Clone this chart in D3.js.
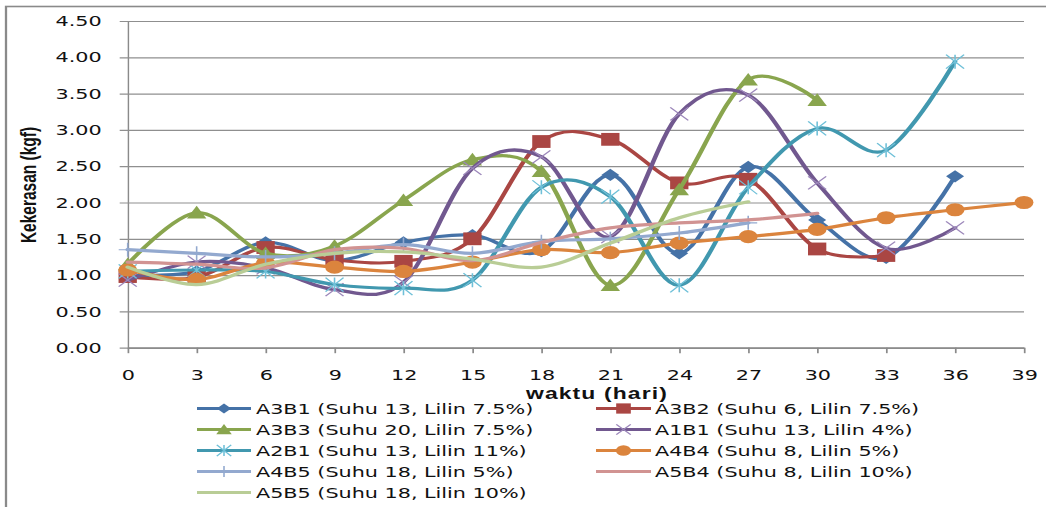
<!DOCTYPE html>
<html>
<head>
<meta charset="utf-8">
<script src="https://cdn.jsdelivr.net/npm/d3@7"></script>
<style>
  html, body { margin: 0; padding: 0; background: #ffffff; }
  svg { display: block; }
</style>
</head>
<body>
<div id="chart"></div>
<script>
// Days of observation (x axis) and y-axis ticks
const days = [0, 3, 6, 9, 12, 15, 18, 21, 24, 27, 30, 33, 36, 39];
const yTicks = [0, 0.5, 1, 1.5, 2, 2.5, 3, 3.5, 4, 4.5];

// Hardness values (kgf) per treatment, one value per day from day 0
const A3B1 = [1.00, 1.05, 1.45, 1.20, 1.45, 1.55, 1.33, 2.38, 1.30, 2.49, 1.76, 1.24, 2.36];
const A3B2 = [0.98, 0.97, 1.38, 1.21, 1.19, 1.50, 2.84, 2.87, 2.27, 2.32, 1.36, 1.27];
const A3B3 = [1.15, 1.86, 1.30, 1.40, 2.03, 2.59, 2.43, 0.86, 2.18, 3.69, 3.41];
const A1B1 = [0.93, 1.18, 1.10, 0.80, 0.90, 2.47, 2.63, 1.53, 3.22, 3.48, 2.27, 1.37, 1.65];
const A2B1 = [1.05, 1.07, 1.05, 0.87, 0.82, 0.93, 2.21, 2.08, 0.86, 2.21, 3.02, 2.72, 3.94];
const A4B4 = [1.07, 0.94, 1.17, 1.11, 1.05, 1.18, 1.35, 1.31, 1.44, 1.53, 1.63, 1.79, 1.90, 2.00];
const A4B5 = [1.35, 1.30, 1.25, 1.30, 1.42, 1.30, 1.46, 1.50, 1.58, 1.72];
const A5B4 = [1.18, 1.15, 1.10, 1.35, 1.37, 1.20, 1.45, 1.65, 1.72, 1.76, 1.85];
const A5B5 = [1.11, 0.87, 1.15, 1.30, 1.32, 1.22, 1.11, 1.44, 1.79, 2.01];

const seriesNames = [
  "A3B1 (Suhu 13, Lilin 7.5%)",
  "A3B2 (Suhu 6, Lilin 7.5%)",
  "A3B3 (Suhu 20, Lilin 7.5%)",
  "A1B1 (Suhu 13, Lilin 4%)",
  "A2B1 (Suhu 13, Lilin 11%)",
  "A4B4 (Suhu 8, Lilin 5%)",
  "A4B5 (Suhu 18, Lilin 5%)",
  "A5B4 (Suhu 8, Lilin 10%)",
  "A5B5 (Suhu 18, Lilin 10%)"
];
const seriesValues = [A3B1, A3B2, A3B3, A1B1, A2B1, A4B4, A4B5, A5B4, A5B5];

const styles = [
  { color: "#4572A7", marker: "diamond", mcolor: "#4572A7" },
  { color: "#AA4643", marker: "square",  mcolor: "#AA4643" },
  { color: "#89A54E", marker: "triangle", mcolor: "#89A54E" },
  { color: "#71588F", marker: "x",       mcolor: "#9C87BA" },
  { color: "#4198AF", marker: "star",    mcolor: "#6FC0D8" },
  { color: "#DB843D", marker: "circle",  mcolor: "#DB843D" },
  { color: "#93A9CF", marker: "plus",    mcolor: "#93A9CF" },
  { color: "#D19392", marker: "none",    mcolor: "#D19392" },
  { color: "#B9CD96", marker: "none",    mcolor: "#B9CD96" }
];

// The whole drawing is laid out on a narrower canvas and widened horizontally.
const sx = 1.43;
const W = 1046 / sx, H = 507;

const svg = d3.select("#chart").append("svg")
  .attr("width", 1046).attr("height", H)
  .attr("viewBox", `0 0 ${W} ${H}`)
  .attr("preserveAspectRatio", "none");

// Outer chart border (right and bottom run past the canvas)
svg.append("rect")
  .attr("x", 6 / sx).attr("y", 6.5)
  .attr("width", W).attr("height", H)
  .attr("fill", "none").attr("stroke", "#8a8a8a").attr("stroke-width", 1.6);

const x = d3.scaleLinear().domain([0, 39]).range([127.7 / sx, 1024 / sx]);
const y = d3.scaleLinear().domain([0, 4.5]).range([347.7, 21]);
const plotW = x(39) - x(0);

const tickFont = "'DejaVu Sans', Verdana, sans-serif";

// Y axis with gridlines
const gy = svg.append("g")
  .attr("transform", `translate(${x(0)},0)`)
  .call(d3.axisLeft(y).tickValues(yTicks).tickFormat(d3.format(".2f"))
    .tickSize(-plotW).tickPadding(18.2));
gy.select(".domain").attr("stroke", "#8a8a8a");
gy.selectAll(".tick line").attr("x1", -8 / sx).attr("stroke", "#8f8f8f").attr("stroke-width", 1.2);
gy.selectAll(".tick text").attr("font-family", tickFont).attr("font-size", 14.5).attr("fill", "#111");

// X axis
const gx = svg.append("g")
  .attr("transform", `translate(0,${y(0)})`)
  .call(d3.axisBottom(x).tickValues(days).tickFormat(d3.format("d"))
    .tickSize(5.5).tickSizeOuter(0).tickPadding(16.5));
gx.select(".domain").attr("stroke", "#8a8a8a").attr("stroke-width", 1.2);
gx.selectAll(".tick line").attr("stroke", "#8a8a8a").attr("stroke-width", 1.2);
gx.selectAll(".tick text").attr("font-family", tickFont).attr("font-size", 14.5).attr("fill", "#111");

// Axis titles
svg.append("text")
  .attr("transform", `translate(${28.5 / sx},185) rotate(-90)`)
  .attr("text-anchor", "middle").attr("dy", "0.35em")
  .attr("font-family", "'Liberation Sans', Arial, sans-serif")
  .attr("font-weight", "bold").attr("font-size", 15.5).attr("fill", "#111")
  .text("Kekerasan (kgf)");

svg.append("text")
  .attr("x", 597 / sx).attr("y", 393)
  .attr("text-anchor", "middle").attr("dy", "0.35em")
  .attr("font-family", "'Liberation Sans', Arial, sans-serif")
  .attr("font-weight", "bold").attr("font-size", 16).attr("fill", "#111")
  .attr("letter-spacing", 0.8)
  .text("waktu (hari)");

// Marker drawing
function drawMarker(g, type, color, k) {
  const m = g.append("g");
  if (type === "diamond") {
    m.append("path").attr("d", `M0,${-6.2 * k}L${6.3 * k},0L0,${6.2 * k}L${-6.3 * k},0Z`).attr("fill", color);
  } else if (type === "square") {
    const h = 6.4 * k;
    m.append("rect").attr("x", -h).attr("y", -h).attr("width", 2 * h).attr("height", 2 * h).attr("fill", color);
  } else if (type === "triangle") {
    m.append("path").attr("d", `M0,${-6.8 * k}L${6.8 * k},${5.8 * k}L${-6.8 * k},${5.8 * k}Z`).attr("fill", color);
  } else if (type === "circle") {
    m.append("circle").attr("r", 6.6 * k).attr("fill", color);
  } else if (type === "x") {
    const a = 6.3 * k, b = 6.5 * k;
    m.append("path").attr("d", `M${-a},${-b}L${a},${b}M${-a},${b}L${a},${-b}`)
      .attr("stroke", color).attr("stroke-width", 1.1).attr("fill", "none");
  } else if (type === "star") {
    const a = 6.3 * k, b = 7 * k;
    m.append("path").attr("d", `M${-a},${-b}L${a},${b}M${-a},${b}L${a},${-b}M0,${-b}L0,${b}`)
      .attr("stroke", color).attr("stroke-width", 1.1).attr("fill", "none");
  } else if (type === "plus") {
    const a = 6.3 * k, b = 7 * k;
    m.append("path").attr("d", `M${-a},0L${a},0M0,${-b}L0,${b}`)
      .attr("stroke", color).attr("stroke-width", 1.1).attr("fill", "none");
  }
  return m;
}

// Smoothed lines with markers, one series at a time
const line = d3.line()
  .x((d, i) => x(days[i]))
  .y(d => y(d))
  .curve(d3.curveCardinal.tension(0));

const plot = svg.append("g");
seriesValues.forEach((vals, si) => {
  const st = styles[si];
  const g = plot.append("g");
  g.append("path")
    .attr("d", line(vals))
    .attr("fill", "none")
    .attr("stroke", st.color)
    .attr("stroke-width", 3.2)
    .attr("stroke-linejoin", "round")
    .attr("stroke-linecap", "round");
  if (st.marker !== "none") {
    vals.forEach((v, i) => {
      drawMarker(g, st.marker, st.mcolor, 1)
        .attr("transform", `translate(${x(days[i])},${y(v)})`);
    });
  }
});

// Legend in two columns, filled row by row
const legCols = [{ lx0: 197, lx1: 251, tx: 256 }, { lx0: 596, lx1: 651, tx: 655 }];
const legend = svg.append("g");
seriesNames.forEach((name, i) => {
  const col = legCols[i % 2];
  const row = Math.floor(i / 2);
  const cy = 408.5 + row * 21;
  const st = styles[i];
  const g = legend.append("g");
  g.append("line")
    .attr("x1", col.lx0 / sx).attr("x2", col.lx1 / sx)
    .attr("y1", cy).attr("y2", cy)
    .attr("stroke", st.color).attr("stroke-width", 3.2);
  if (st.marker !== "none") {
    drawMarker(g, st.marker, st.mcolor, 0.8)
      .attr("transform", `translate(${(col.lx0 + col.lx1) / 2 / sx},${cy})`);
  }
  g.append("text")
    .attr("x", col.tx / sx).attr("y", cy).attr("dy", "0.36em")
    .attr("font-family", tickFont).attr("font-size", 14.5).attr("fill", "#111")
    .text(name);
});
</script>
</body>
</html>
